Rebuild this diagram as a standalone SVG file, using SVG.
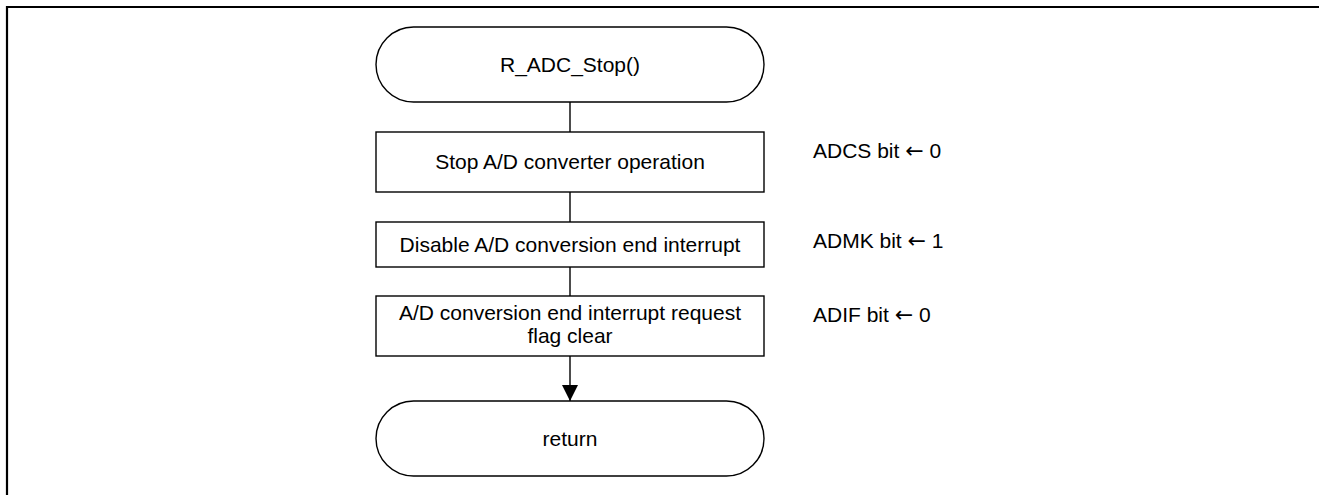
<svg xmlns="http://www.w3.org/2000/svg" width="1319" height="495" viewBox="0 0 1319 495">
<defs>
<style>
.s{fill:#fff;stroke:#000;stroke-width:1.4}
.t{font-family:"Liberation Sans",Arial,sans-serif;font-size:21px;fill:#000}
.c{text-anchor:middle}
.a{font-family:"DejaVu Sans",sans-serif;font-size:22px}
.l{fill:none;stroke:#000;stroke-width:1.4}
</style>
<marker id="ah" viewBox="0 0 16 17" refX="16" refY="8" markerWidth="16" markerHeight="17" markerUnits="userSpaceOnUse" orient="auto">
<path d="M0,0 L16,8 L0,16 Z" fill="#000"/>
</marker>
</defs>
<rect width="1319" height="495" fill="#fff"/>
<path d="M7,495 V7 H1319" fill="none" stroke="#000" stroke-width="2.2"/>
<g id="connectors">
<line class="l" x1="570" y1="102" x2="570" y2="132"/>
<line class="l" x1="570" y1="192" x2="570" y2="222"/>
<line class="l" x1="570" y1="267" x2="570" y2="296"/>
<line class="l" x1="570" y1="356" x2="570" y2="401" marker-end="url(#ah)"/>
</g>
<g id="start">
<rect class="s" x="376" y="27" width="388" height="75" rx="37.5" ry="37.5"/>
<text class="t c" x="570" y="72">R_ADC_Stop()</text>
</g>
<g id="stop_adc">
<rect class="s" x="376" y="132" width="388" height="60"/>
<text class="t c" x="570" y="169">Stop A/D converter operation</text>
</g>
<g id="disable_int">
<rect class="s" x="376" y="222" width="388" height="45"/>
<text class="t c" x="570" y="252">Disable A/D conversion end interrupt</text>
</g>
<g id="clear_flag">
<rect class="s" x="376" y="296" width="388" height="60"/>
<text class="t c" x="570" y="320">A/D conversion end interrupt request</text>
<text class="t c" x="570" y="343">flag clear</text>
</g>
<g id="end">
<rect class="s" x="376" y="401" width="388" height="75" rx="37.5" ry="37.5"/>
<text class="t c" x="570" y="446">return</text>
</g>
<g id="notes">
<text class="t" x="813" y="158">ADCS bit <tspan class="a">←</tspan> 0</text>
<text class="t" x="813" y="248">ADMK bit <tspan class="a">←</tspan> 1</text>
<text class="t" x="813" y="322">ADIF bit <tspan class="a">←</tspan> 0</text>
</g>
</svg>
